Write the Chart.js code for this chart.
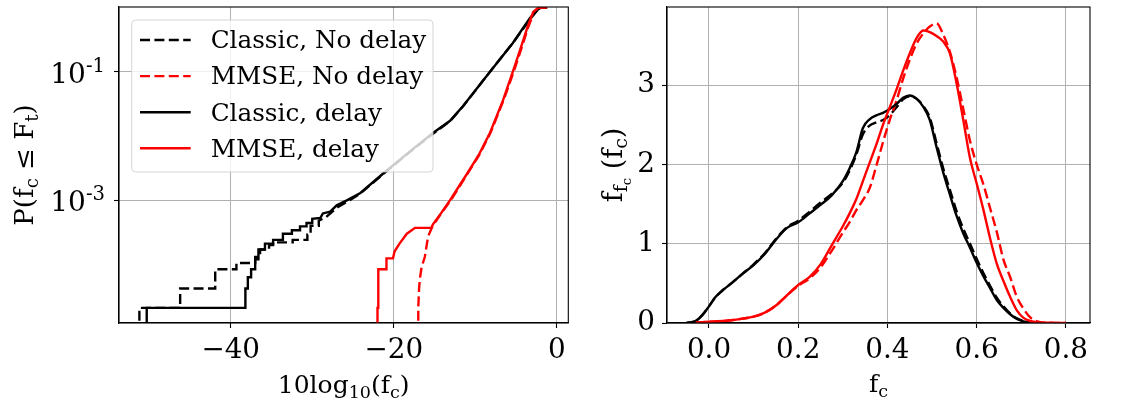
<!DOCTYPE html>
<html>
<head>
<meta charset="utf-8">
<script src="https://cdn.jsdelivr.net/npm/chart.js@4.4.0/dist/chart.umd.min.js"></script>
<style>
    html, body { margin: 0; padding: 0; background: #fff; }
    #wrap { position: relative; width: 1135px; height: 402px; overflow: hidden; }
    .box { position: absolute; top: 0; height: 402px; }
    #leftBox { left: 0; width: 585px; }
    #rightBox { left: 585px; width: 550px; }
</style>
</head>
<body>
<div id="wrap">
    <div class="box" id="leftBox"><canvas id="cdfChart"></canvas></div>
    <div class="box" id="rightBox"><canvas id="pdfChart"></canvas></div>
</div>
<script>
/* ============================================================
   DATA  (left: empirical CDF, right: density)
============================================================ */
const seriesLabels = ["Classic, No delay", "MMSE, No delay", "Classic, delay", "MMSE, delay"];

// left panel: x = 10log10(fc), y = P(fc <= Ft)
const cdfClassicNoDelayX = [-51.2, -51.2, -46.2, -46.2, -41.9, -41.9, -39.3, -39.3, -37.0, -37.0, -36.4, -36.4, -35.3, -35.3, -34.8, -34.8, -32.4, -32.4, -30.6, -30.6, -30.2, -30.2, -29.2, -29.2, -28.4, -27.0, -25.4, -24.1, -21.3, -18.2, -15.2, -13.1, -11.5, -8.2, -5.4, -3.2, -2.4, -2.0, -1.2];
const cdfClassicNoDelayP = [1e-6, 2.1e-5, 2.1e-5, 4.2e-5, 4.2e-5, 8.4e-5, 8.4e-5, 1.05e-4, 1.05e-4, 1.3e-4, 1.3e-4, 1.7e-4, 1.7e-4, 2.0e-4, 2.0e-4, 2.2e-4, 2.2e-4, 2.4e-4, 2.4e-4, 2.9e-4, 2.9e-4, 4.0e-4, 4.0e-4, 4.8e-4, 5.3e-4, 7.6e-4, 1.0e-3, 1.27e-3, 2.55e-3, 5.4e-3, 0.0108, 0.0170, 0.029, 0.1, 0.28, 0.68, 0.91, 0.99, 1.0];

const cdfMmseNoDelayX = [-17.0, -17.0, -16.9, -16.8, -16.6, -16.2, -15.8, -15.3, -15.1, -14.2, -13.0, -10.9, -9.5, -8.1, -6.5, -5.3, -4.4, -3.5, -2.8, -2.2, -1.2];
const cdfMmseNoDelayP = [1e-6, 2.1e-5, 4.2e-5, 6.0e-5, 8.9e-5, 1.3e-4, 2.7e-4, 3.8e-4, 4.2e-4, 6.2e-4, 1.0e-3, 2.65e-3, 5.1e-3, 0.0115, 0.037, 0.1, 0.22, 0.5, 0.85, 0.99, 1.0];

const cdfClassicDelayX = [-50.3, -50.3, -38.2, -38.2, -37.9, -37.9, -37.5, -37.5, -37.0, -37.0, -36.6, -36.6, -35.8, -35.8, -34.8, -34.8, -33.6, -33.6, -32.5, -32.5, -31.5, -31.5, -30.7, -30.7, -30.0, -30.0, -29.0, -28.7, -27.8, -27.0, -25.7, -24.1, -21.3, -18.2, -15.2, -13.1, -11.5, -8.2, -5.4, -3.3, -2.4, -2.0, -1.2];
const cdfClassicDelayP = [1e-6, 2.1e-5, 2.1e-5, 4.2e-5, 4.2e-5, 6.3e-5, 6.3e-5, 8.4e-5, 8.4e-5, 1.2e-4, 1.2e-4, 1.7e-4, 1.7e-4, 2.1e-4, 2.1e-4, 2.4e-4, 2.4e-4, 3.0e-4, 3.0e-4, 3.4e-4, 3.4e-4, 3.9e-4, 3.9e-4, 4.4e-4, 4.4e-4, 5.1e-4, 5.3e-4, 6.2e-4, 6.6e-4, 8.3e-4, 1.0e-3, 1.29e-3, 2.6e-3, 5.5e-3, 0.0111, 0.0172, 0.0292, 0.1, 0.28, 0.685, 0.914, 0.99, 1.0];

const cdfMmseDelayX = [-22.0, -22.0, -21.9, -21.9, -20.9, -20.9, -20.1, -19.9, -19.3, -18.4, -17.4, -15.4, -15.2, -14.3, -13.1, -11.0, -9.6, -8.2, -6.6, -5.4, -4.5, -3.6, -2.9, -2.3, -1.2];
const cdfMmseDelayP = [1e-6, 2.1e-5, 2.1e-5, 8.4e-5, 8.4e-5, 1.24e-4, 1.24e-4, 1.6e-4, 2.1e-4, 3.0e-4, 3.7e-4, 3.7e-4, 4.2e-4, 6.0e-4, 1.0e-3, 2.6e-3, 5.0e-3, 0.0112, 0.036, 0.1, 0.22, 0.5, 0.85, 0.99, 1.0];

const cdfXTicks = [-40, -20, 0];
const cdfYTicks = [1e-3, 1e-1];

// right panel: x = fc, y = density
const pdfX = [-0.05, -0.03, -0.015, 0, 0.015, 0.03, 0.05, 0.075, 0.1, 0.125, 0.15, 0.175, 0.2, 0.225, 0.25, 0.275, 0.3, 0.315, 0.33, 0.345, 0.36, 0.375, 0.39, 0.405, 0.42, 0.435, 0.45, 0.465, 0.48, 0.495, 0.51, 0.525, 0.54, 0.555, 0.57, 0.585, 0.6, 0.615, 0.63, 0.645, 0.66, 0.675, 0.69, 0.705, 0.72, 0.74, 0.76, 0.78, 0.8];
const pdfClassicNoDelay = [0, 0.025, 0.10, 0.21, 0.33, 0.41, 0.50, 0.62, 0.74, 0.88, 1.06, 1.21, 1.29, 1.40, 1.52, 1.63, 1.77, 1.92, 2.12, 2.38, 2.49, 2.53, 2.56, 2.62, 2.72, 2.82, 2.86, 2.83, 2.74, 2.59, 2.27, 1.95, 1.68, 1.41, 1.19, 1.00, 0.81, 0.63, 0.47, 0.32, 0.21, 0.12, 0.06, 0.025, 0.01, 0, null, null, null];
const pdfMmseNoDelay = [null, 0.005, 0.01, 0.015, 0.02, 0.025, 0.035, 0.055, 0.08, 0.13, 0.22, 0.35, 0.47, 0.56, 0.70, 0.91, 1.14, 1.27, 1.42, 1.55, 1.70, 1.98, 2.28, 2.56, 2.80, 3.08, 3.32, 3.52, 3.65, 3.74, 3.78, 3.64, 3.42, 3.10, 2.70, 2.30, 2.00, 1.75, 1.45, 1.15, 0.80, 0.58, 0.33, 0.18, 0.07, 0.015, 0.004, 0.001, 0];
const pdfClassicDelay = [0, 0.025, 0.10, 0.21, 0.33, 0.41, 0.50, 0.62, 0.73, 0.87, 1.05, 1.20, 1.27, 1.38, 1.49, 1.61, 1.79, 1.95, 2.15, 2.46, 2.57, 2.62, 2.65, 2.70, 2.76, 2.84, 2.87, 2.83, 2.73, 2.56, 2.22, 1.90, 1.62, 1.35, 1.13, 0.95, 0.76, 0.59, 0.44, 0.29, 0.19, 0.11, 0.05, 0.02, 0.008, 0, null, null, null];
const pdfMmseDelay = [null, 0.005, 0.01, 0.015, 0.02, 0.025, 0.035, 0.055, 0.08, 0.13, 0.22, 0.35, 0.48, 0.58, 0.74, 0.98, 1.22, 1.38, 1.56, 1.79, 2.02, 2.25, 2.50, 2.72, 2.94, 3.18, 3.40, 3.59, 3.69, 3.67, 3.62, 3.55, 3.40, 3.02, 2.56, 2.08, 1.76, 1.43, 1.07, 0.75, 0.53, 0.33, 0.16, 0.065, 0.025, 0.008, 0.003, 0, 0];

const pdfXTicks = [0, 0.2, 0.4, 0.6, 0.8];
const pdfYTicks = [0, 1, 2, 3];

/* ============================================================
   STYLE
============================================================ */
const FONT = '"DejaVu Serif", serif';
const DASH = [10, 4.4];
Chart.defaults.font.family = FONT;
Chart.defaults.color = "#000";

function lineStyle(i) {
    // order: lower number is drawn on top
    const styles = [
        { borderColor: "#000000", borderDash: DASH, order: 3 },
        { borderColor: "#ff0000", borderDash: DASH, order: 2 },
        { borderColor: "#000000", borderDash: [], order: 1 },
        { borderColor: "#ff0000", borderDash: [], order: 0 },
    ];
    return Object.assign({ borderWidth: 2.4, pointRadius: 0, fill: false }, styles[i]);
}

function pairs(xs, ys) {
    return xs.map((x, i) => ({ x: x, y: ys[i] }));
}

/* rich text: [text, level]  level 1 = subscript, 2 = sub-sub, -1 = superscript */
function richParts(ctx, parts, size) {
    return parts.map(p => {
        const lvl = p[1];
        const s = size * Math.pow(0.7, Math.abs(lvl));
        ctx.font = s + "px " + FONT;
        let dy = 0;
        if (lvl === 1) dy = 0.2 * size;
        if (lvl === 2) dy = 0.2 * size + 0.14 * size;
        if (lvl === -1) dy = -0.38 * size;
        return { t: p[0], font: ctx.font, dy: dy, w: ctx.measureText(p[0]).width };
    });
}

function drawRich(ctx, parts, x, y, size, align) {
    const items = richParts(ctx, parts, size);
    const w = items.reduce((a, b) => a + b.w, 0);
    let cx = align === "center" ? x - w / 2 : align === "right" ? x - w : x;
    ctx.textAlign = "left";
    ctx.textBaseline = "alphabetic";
    ctx.fillStyle = "#000";
    items.forEach(it => {
        ctx.font = it.font;
        ctx.fillText(it.t, cx, y + it.dy);
        cx += it.w;
    });
}

// no automatic label padding: the chart area is fixed by the layout below
function noPad(s) {
    s.paddingTop = 0;
    s.paddingBottom = 0;
    s.paddingLeft = 0;
    s.paddingRight = 0;
}

function axisScale(cfg) {
    return Object.assign({
        grid: { color: "#b0b0b0", lineWidth: 1, tickColor: "#000", tickLength: 5, tickWidth: 1.1 },
        border: { display: true, color: "#000", width: 1.1 },
    }, cfg);
}

/* frame + labels drawn on top of the chart */
function framePlugin(opts) {
    return {
        id: "frame_" + opts.name,
        afterDatasetsDraw(chart) {
            const ctx = chart.ctx;
            const a = chart.chartArea;
            ctx.save();
            ctx.strokeStyle = "#000";
            ctx.lineWidth = 1.1;
            ctx.strokeRect(a.left, a.top, a.right - a.left, a.bottom - a.top);
            ctx.restore();
        },
        afterDraw(chart) {
            const ctx = chart.ctx;
            const a = chart.chartArea;
            ctx.save();
            drawRich(ctx, opts.xLabel, (a.left + a.right) / 2, opts.xLabelY, opts.labelSize, "center");
            ctx.translate(opts.yLabelX, (a.top + a.bottom) / 2);
            ctx.rotate(-Math.PI / 2);
            drawRich(ctx, opts.yLabel, 0, 0, opts.yLabelSize, "center");
            ctx.restore();
            if (opts.extra) opts.extra(chart);
        }
    };
}

/* ============================================================
   LEFT: CDF (log y)
============================================================ */
function drawLogTicks(chart) {
    const ctx = chart.ctx;
    const ys = chart.scales.y;
    ctx.save();
    cdfYTicks.forEach(v => {
        const py = ys.getPixelForValue(v);
        const exp = Math.round(Math.log10(v));
        drawRich(ctx, [["10", 0], ["-" + Math.abs(exp), -1]], 105, py + 11, 28, "right");
    });
    ctx.restore();
    drawLegend(chart);
}

function drawLegend(chart) {
    const ctx = chart.ctx;
    const x0 = 131.7, y0 = 20, w = 301.3, h = 152, r = 4;
    ctx.save();
    ctx.beginPath();
    ctx.moveTo(x0 + r, y0);
    ctx.arcTo(x0 + w, y0, x0 + w, y0 + h, r);
    ctx.arcTo(x0 + w, y0 + h, x0, y0 + h, r);
    ctx.arcTo(x0, y0 + h, x0, y0, r);
    ctx.arcTo(x0, y0, x0 + w, y0, r);
    ctx.closePath();
    ctx.fillStyle = "rgba(255,255,255,0.8)";
    ctx.fill();
    ctx.strokeStyle = "rgba(204,204,204,0.8)";
    ctx.lineWidth = 1;
    ctx.stroke();

    chart.data.datasets.forEach((ds, i) => {
        const cy = 40 + i * 36.1;
        ctx.beginPath();
        ctx.setLineDash(ds.borderDash);
        ctx.strokeStyle = ds.borderColor;
        ctx.lineWidth = ds.borderWidth;
        ctx.moveTo(140, cy);
        ctx.lineTo(190.7, cy);
        ctx.stroke();
        ctx.setLineDash([]);
        ctx.fillStyle = "#000";
        ctx.font = "24.7px " + FONT;
        ctx.textAlign = "left";
        ctx.textBaseline = "alphabetic";
        ctx.fillText(ds.label, 210.7, cy + 8.3);
    });
    ctx.restore();
}

const cdfSeries = [
    [cdfClassicNoDelayX, cdfClassicNoDelayP],
    [cdfMmseNoDelayX, cdfMmseNoDelayP],
    [cdfClassicDelayX, cdfClassicDelayP],
    [cdfMmseDelayX, cdfMmseDelayP],
];

new Chart(document.getElementById("cdfChart"), {
    type: "line",
    data: {
        datasets: cdfSeries.map((s, i) => Object.assign({
            label: seriesLabels[i],
            data: pairs(s[0], s[1]),
            tension: 0,
        }, lineStyle(i)))
    },
    options: {
        responsive: true,
        maintainAspectRatio: false,
        animation: false,
        devicePixelRatio: 1,
        layout: { padding: { top: 7, right: 585 - 568.3, bottom: 0, left: 0 } },
        plugins: { legend: { display: false }, tooltip: { enabled: false } },
        scales: {
            x: axisScale({
                type: "linear",
                min: -53.7,
                max: 1.4,
                afterBuildTicks: s => { s.ticks = cdfXTicks.map(v => ({ value: v })); },
                afterFit: s => { s.height = 79; noPad(s); },
                ticks: {
                    font: { size: 27.8 },
                    padding: 6,
                    maxRotation: 0,
                    callback: v => (v < 0 ? "\u2212" + Math.abs(v) : String(v)),
                },
            }),
            y: axisScale({
                type: "logarithmic",
                min: 1.22e-5,
                max: 1.018,
                afterBuildTicks: s => { s.ticks = cdfYTicks.map(v => ({ value: v })); },
                afterFit: s => { s.width = 119; noPad(s); },
                ticks: { callback: () => "" },
            }),
        }
    },
    plugins: [framePlugin({
        name: "cdf",
        xLabel: [["10log", 0], ["10", 1], ["(f", 0], ["c", 1], [")", 0]],
        yLabel: [["P(f", 0], ["c", 1], [" \u2264 F", 0], ["t", 1], [")", 0]],
        xLabelY: 392.7,
        yLabelX: 33,
        labelSize: 25,
        yLabelSize: 26,
        extra: drawLogTicks,
    })]
});

/* ============================================================
   RIGHT: density
============================================================ */
const pdfSeries = [pdfClassicNoDelay, pdfMmseNoDelay, pdfClassicDelay, pdfMmseDelay];

new Chart(document.getElementById("pdfChart"), {
    type: "line",
    data: {
        datasets: pdfSeries.map((ys, i) => Object.assign({
            label: seriesLabels[i],
            data: pairs(pdfX, ys),
            cubicInterpolationMode: "monotone",
            spanGaps: false,
        }, lineStyle(i)))
    },
    options: {
        responsive: true,
        maintainAspectRatio: false,
        animation: false,
        devicePixelRatio: 1,
        layout: { padding: { top: 7, right: 550 - 505, bottom: 0, left: 0 } },
        plugins: { legend: { display: false }, tooltip: { enabled: false } },
        scales: {
            x: axisScale({
                type: "linear",
                min: -0.0941,
                max: 0.854,
                afterBuildTicks: s => { s.ticks = pdfXTicks.map(v => ({ value: v })); },
                afterFit: s => { s.height = 79; noPad(s); },
                ticks: {
                    font: { size: 27.8 },
                    padding: 6,
                    maxRotation: 0,
                    callback: v => v.toFixed(1),
                },
            }),
            y: axisScale({
                type: "linear",
                min: 0,
                max: 3.986,
                afterBuildTicks: s => { s.ticks = pdfYTicks.map(v => ({ value: v })); },
                afterFit: s => { s.width = 82; noPad(s); },
                ticks: { font: { size: 27.8 }, padding: 7, callback: v => String(v) },
            }),
        }
    },
    plugins: [framePlugin({
        name: "pdf",
        xLabel: [["f", 0], ["c", 1]],
        yLabel: [["f", 0], ["f", 1], ["c", 2], [" (f", 0], ["c", 1], [")", 0]],
        xLabelY: 392,
        yLabelX: 37,
        labelSize: 25,
        yLabelSize: 27,
    })]
});
</script>
</body>
</html>
